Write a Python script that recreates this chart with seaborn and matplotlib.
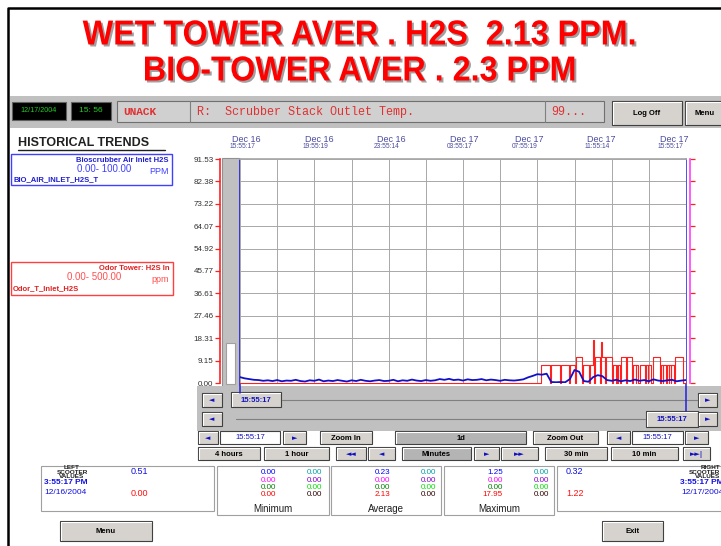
import numpy as np
import pandas as pd
import matplotlib
matplotlib.use("Agg")
import matplotlib.pyplot as plt
import matplotlib.patheffects as pe
from matplotlib.patches import Rectangle
from matplotlib.transforms import Affine2D
from matplotlib.colors import to_rgba
import seaborn as sns

# Bioscrubber Air Inlet H2S (blue pen), one reading every 15 min over the 24 h window
bio_hours = np.arange(0, 24.01, 0.25)
bio_ppm = [2.4, 1.9, 1.6, 1.3,
           1.2, 0.9, 1.1, 0.8, 1.2, 0.7, 1.0, 0.9,
           1.3, 0.8, 0.6, 1.1, 0.9, 1.4, 0.7, 1.0,
           0.8, 1.2, 0.9, 0.6, 1.1, 0.8, 1.3, 0.9,
           0.7, 1.0, 1.2, 0.8, 0.9, 1.3, 0.7, 1.1,
           0.9, 1.4, 1.0, 0.8, 1.2, 0.9, 1.1, 1.6,
           1.3, 1.7, 1.2, 1.4, 1.0, 1.5, 1.2, 1.3,
           1.6, 1.1, 1.4, 1.2, 0.9, 1.3, 1.1, 1.0,
           1.2, 1.5, 2.3, 2.9,
           3.6, 3.4, 3.8, 0.4,
           0.3, 0.4, 0.3, 1.6,
           5.3, 4.6, 0.8, 0.5,
           2.4, 3.2, 2.8, 1.2,
           0.9, 1.3, 0.7, 1.1,
           0.8, 1.4, 0.9, 1.2,
           0.7, 1.5, 1.0, 0.8,
           1.1, 1.3, 0.7, 1.0, 1.2]

# Odor Tower H2S In (red pen), value changes (hours since 12/16 15:55:17)
odor_hours = [0.00, 16.20, 16.66, 16.72, 17.20, 17.26, 17.68, 17.74, 18.02, 18.08,
              18.40, 18.46, 18.78, 18.84, 19.00, 19.05, 19.10, 19.38, 19.42, 19.48,
              19.62, 19.68, 20.02, 20.08, 20.25, 20.28, 20.31, 20.34, 20.44, 20.50,
              20.78, 20.84, 21.10, 21.16, 21.30, 21.33, 21.44, 21.50, 21.80, 21.86,
              21.95, 21.98, 22.14, 22.20, 22.58, 22.64, 22.74, 22.77, 22.92, 22.98,
              23.08, 23.11, 23.18, 23.21, 23.34, 23.40, 23.84, 24.00]
odor_ppm = [0.0, 7.2, 0.0, 7.2, 0.0, 7.2, 0.0, 7.2, 0.0, 10.6,
            0.0, 7.2, 0.0, 7.2, 17.5, 0.0, 10.6, 0.0, 16.8, 10.6,
            0.0, 10.6, 0.0, 7.2, 0.0, 7.2, 0.0, 7.2, 0.0, 10.6,
            0.0, 10.6, 0.0, 7.2, 0.0, 7.2, 0.0, 7.2, 0.0, 7.2,
            0.0, 7.2, 0.0, 10.6, 0.0, 7.2, 0.0, 7.2, 0.0, 7.2,
            0.0, 7.2, 0.0, 7.2, 0.0, 10.6, 0.0, 0.0]

y_ticks = [0.00, 9.15, 18.31, 27.46, 36.61, 45.77, 54.92, 64.07, 73.22, 82.38, 91.53]
top_days = ["Dec 16", "Dec 16", "Dec 16", "Dec 17", "Dec 17", "Dec 17", "Dec 17"]
top_times = ["15:55:17", "19:55:19", "23:55:14", "03:55:17", "07:55:19", "11:55:14", "15:55:17"]

stat_names = ["Minimum", "Average", "Maximum"]
pen_colors_a = ["#0000ff", "#ff00ff", "#008000", "#ff0000"]
pen_colors_b = ["#00a0a0", "#8000d0", "#00e000", "#300000"]
stat_a = [[0.00, 0.00, 0.00, 0.00], [0.23, 0.00, 0.00, 2.13], [1.25, 0.00, 0.00, 17.95]]
stat_b = [[0.00, 0.00, 0.00, 0.00], [0.00, 0.00, 0.00, 0.00], [0.00, 0.00, 0.00, 0.00]]

sns.set_theme(style="white")
plt.rcParams['font.family'] = ['Liberation Sans', 'DejaVu Sans']

W, H = 721, 546
fig = plt.figure(figsize=(W / 100, H / 100), dpi=100)
ui = fig.add_axes([0, 0, 1, 1])
ui.set_xlim(0, W)
ui.set_ylim(H, 0)
ui.axis('off')

FACE = '#d6d3ce'
BAND = '#c0c0c0'


class SqueezeShadow(pe.AbstractPathEffect):
    # narrow the glyphs around cx (display px) and add a drop shadow
    def __init__(self, cx, sx, shadow='#a0a0a0', dx=2, dy=-2):
        super().__init__()
        self.cx, self.sx, self.shadow, self.dx, self.dy = cx, sx, to_rgba(shadow), dx, dy

    def draw_path(self, renderer, gc, tpath, affine, rgbFace=None):
        sq = Affine2D().translate(-self.cx, 0).scale(self.sx, 1).translate(self.cx, 0)
        gc0 = renderer.new_gc()
        gc0.copy_properties(gc)
        renderer.draw_path(gc0, tpath, affine + sq + Affine2D().translate(self.dx, self.dy), self.shadow)
        gc0.restore()
        renderer.draw_path(gc, tpath, affine + sq, rgbFace)


def box(x0, y0, x1, y1, fc, ec='#808080', lw=0.8, z=1):
    ui.add_patch(Rectangle((x0, y0), x1 - x0, y1 - y0, facecolor=fc, edgecolor=ec, lw=lw, zorder=z))


def button(x0, y0, x1, y1, label, fc=FACE, color='black', size=5.5, weight='bold', z=2):
    box(x0, y0, x1, y1, fc, ec='#404040', lw=0.8, z=z)
    ui.plot([x0 + 1, x0 + 1, x1 - 1], [y1 - 1, y0 + 1, y0 + 1], color='white', lw=0.8, zorder=z)
    ui.text((x0 + x1) / 2, (y0 + y1) / 2 + 0.5, label, ha='center', va='center', color=color,
            fontsize=size, fontweight=weight, zorder=z + 1,
            family=['DejaVu Sans'] if label.startswith(('\u25c4', '\u25ba')) else None)


# outer frame
ui.plot([8, 8, W], [H, 8, 8], color='black', lw=1.8, zorder=5)

# title
for y, txt in [(35, "WET TOWER AVER . H2S  2.13 PPM."), (71, "BIO-TOWER AVER . 2.3 PPM")]:
    ui.text(360, y, txt, ha='center', va='center', color='#ff0000', fontsize=25, fontweight='bold',
            path_effects=[SqueezeShadow(360, 0.93)])

# header bar
box(10, 96, W + 2, 128, BAND, ec='none')
box(12, 102, 66, 120, 'black', ec='#606060')
ui.text(39, 111, "12/17/2004", ha='center', va='center', color='#20d020', fontsize=5.2)
box(71, 102, 111, 120, 'black', ec='#606060')
ui.text(91, 111, "15: 56", ha='center', va='center', color='#20d020', fontsize=6)
box(117, 101, 604, 122, '#d0d0d0', ec='#707070')
ui.plot([190, 190], [101, 122], color='#808080', lw=0.8)
ui.plot([545, 545], [101, 122], color='#808080', lw=0.8)
ui.text(123, 112, "UNACK", ha='left', va='center', color='#e03030', fontsize=8, fontweight='bold',
        family=['Liberation Mono'])
ui.text(197, 112, "R:  Scrubber Stack Outlet Temp.", ha='left', va='center', color='#e03030',
        fontsize=8.5, family=['Liberation Mono'])
ui.text(551, 112, "99...", ha='left', va='center', color='#e03030', fontsize=8.5, family=['Liberation Mono'])
button(612, 101, 682, 125, "Log Off", size=5.5)
button(685, 101, 725, 125, "Menu", size=5.5)

# left legend boxes
ui.text(18, 143, "HISTORICAL TRENDS", ha='left', va='center', fontsize=9, fontweight='bold', color='#202020')
ui.plot([18, 165], [149.5, 149.5], color='#202020', lw=1)
box(11, 154, 172, 185, 'white', ec='#4040ff', lw=1)
ui.text(169, 160, "Bioscrubber Air Inlet H2S", ha='right', va='center', color='#2020d0', fontsize=5.5, fontweight='bold')
ui.text(104, 169, "0.00- 100.00", ha='center', va='center', color='#4040ff', fontsize=7)
ui.text(169, 171, "PPM", ha='right', va='center', color='#4040ff', fontsize=6.5)
ui.text(13, 180, "BIO_AIR_INLET_H2S_T", ha='left', va='center', color='#2020d0', fontsize=5.5, fontweight='bold')
box(11, 262, 173, 295, 'white', ec='#ff4040', lw=1)
ui.text(170, 268, "Odor Tower: H2S In", ha='right', va='center', color='#e02020', fontsize=5.5, fontweight='bold')
ui.text(94, 277, "0.00- 500.00", ha='center', va='center', color='#ff5050', fontsize=7)
ui.text(169, 280, "ppm", ha='right', va='center', color='#ff5050', fontsize=6.5)
ui.text(13, 289, "Odor_T_Inlet_H2S", ha='left', va='center', color='#e02020', fontsize=5.5, fontweight='bold')

# vertical scrollbar left of the plot
box(222, 158, 239, 387, BAND, ec='#909090')
box(226, 343, 235, 384, 'white', ec='#a0a0a0')

# time labels above the plot
for x, d, t in zip([246, 319, 391, 464, 529, 601, 674], top_days, top_times):
    ui.text(x, 139, d, ha='center', va='center', color='#4a4aa0', fontsize=6.5)
    ui.text(x - 4, 147, t, ha='center', va='center', color='#4a4aa0', fontsize=4.8)

# trend plot
ax = fig.add_axes([240 / W, 1 - 383 / H, 446 / W, 224 / H])
ax.set_facecolor('white')
odor = pd.DataFrame({'hours': odor_hours, 'ppm': odor_ppm})
bio = pd.DataFrame({'hours': bio_hours, 'ppm': bio_ppm})
sns.lineplot(data=odor, x='hours', y='ppm', estimator=None, sort=False, drawstyle='steps-post',
             color='#ff2020', lw=0.8, ax=ax, clip_on=False)
sns.lineplot(data=bio, x='hours', y='ppm', estimator=None, sort=False,
             color='#1010c8', lw=1.3, ax=ax)
ax.set_xlim(0, 24)
ax.set_ylim(0, 91.53)
ax.set_xticks(np.arange(0, 25, 2))
ax.set_yticks(y_ticks, [f"{v:.2f}" for v in y_ticks])
ax.grid(True, color='#a8a8a8', lw=0.7)
ax.set_xlabel('')
ax.set_ylabel('')
ax.tick_params(axis='x', length=0, labelbottom=False)
ax.tick_params(axis='y', which='both', left=True, right=True, direction='out', length=3.5, width=0.9,
               colors='#ff2020', labelcolor='#303030', labelsize=5.8, pad=1)
for lab in ax.get_yticklabels():
    lab.set_fontweight('bold')
ax.spines['left'].set_position(('outward', 14.5))
ax.spines['left'].set_color('#ff2020')
ax.spines['left'].set_linewidth(1.2)
ax.spines['right'].set_position(('outward', 3))
ax.spines['right'].set_color('#ff40ff')
ax.spines['right'].set_linewidth(1.2)
ax.spines['top'].set_color('#a8a8a8')
ax.spines['bottom'].set_visible(False)
for t in ax.yaxis.get_ticklines()[1::2]:
    t.set_color('#ff40ff')

# scroll band under the plot
box(197, 386, W + 2, 431, BAND, ec='none')
ui.plot([282, 697], [400, 400], color='#808080', lw=0.8)
ui.plot([236, 645], [419, 419], color='#808080', lw=0.8)
button(202, 393, 222, 407, "\u25c4", color='#1010c0', size=5)
button(231, 392, 281, 407, "15:55:17", color='#1010c0', size=5.5)
button(698, 393, 717, 407, "\u25ba", color='#1010c0', size=5)
button(202, 412, 222, 426, "\u25c4", color='#1010c0', size=5)
button(646, 411, 698, 427, "15:55:17", color='#1010c0', size=5.5)
button(698, 412, 717, 426, "\u25ba", color='#1010c0', size=5)
ui.plot([240, 240], [159, 393], color='#2020e0', lw=1.1, zorder=4)
ui.plot([686, 686], [159, 411], color='#2020e0', lw=1.1, zorder=4)

# time navigation buttons
button(198, 431, 218, 444, "\u25c4", color='#1010c0', size=5)
box(220, 431, 280, 444, 'white', ec='#404040', z=2)
ui.text(250, 437.5, "15:55:17", ha='center', va='center', color='#1010c0', fontsize=5.5, zorder=3)
button(283, 431, 306, 444, "\u25ba", color='#1010c0', size=5)
button(320, 431, 372, 444, "Zoom In")
button(395, 431, 526, 444, "1d", fc='#b4b4b4')
button(533, 431, 598, 444, "Zoom Out")
button(607, 431, 630, 444, "\u25c4", color='#1010c0', size=5)
box(632, 431, 683, 444, 'white', ec='#404040', z=2)
ui.text(657, 437.5, "15:55:17", ha='center', va='center', color='#1010c0', fontsize=5.5, zorder=3)
button(685, 431, 708, 444, "\u25ba", color='#1010c0', size=5)

button(198, 447, 260, 460, "4 hours")
button(264, 447, 329, 460, "1 hour")
button(336, 447, 366, 460, "\u25c4\u25c4", color='#1010c0', size=5)
button(368, 447, 395, 460, "\u25c4", color='#1010c0', size=5)
button(402, 447, 471, 460, "Minutes", fc='#b4b4b4')
button(474, 447, 499, 460, "\u25ba", color='#1010c0', size=5)
button(501, 447, 538, 460, "\u25ba\u25ba", color='#1010c0', size=5)
button(545, 447, 607, 460, "30 min")
button(611, 447, 678, 460, "10 min")
button(683, 447, 710, 460, "\u25ba\u25ba|", color='#1010c0', size=5)

# scooter value boxes
box(41, 466, 214, 511, 'white', ec='#a0a0a0')
ui.text(72, 472, "LEFT\nSCOOTER\nVALUES", ha='center', va='center', fontsize=4.6, fontweight='bold',
        color='#202020', linespacing=0.85)
ui.text(44, 483, "3:55:17 PM", ha='left', va='center', color='#1010e0', fontsize=6, fontweight='bold')
ui.text(44, 493, "12/16/2004", ha='left', va='center', color='#1010e0', fontsize=6)
ui.text(131, 471, "0.51", ha='left', va='center', color='#1010e0', fontsize=6.5)
ui.text(131, 493, "0.00", ha='left', va='center', color='#ff1010', fontsize=6.5)

box(557, 466, W + 5, 511, 'white', ec='#a0a0a0')
ui.text(566, 471, "0.32", ha='left', va='center', color='#1010e0', fontsize=6.5)
ui.text(566, 493, "1.22", ha='left', va='center', color='#ff1010', fontsize=6.5)
ui.text(720, 472, "RIGHT\nSCOOTER\nVALUES", ha='right', va='center', fontsize=4.6, fontweight='bold',
        color='#202020', linespacing=0.85, multialignment='right')
ui.text(724, 483, "3:55:17 PM", ha='right', va='center', color='#1010e0', fontsize=6, fontweight='bold')
ui.text(724, 493, "12/17/2004", ha='right', va='center', color='#1010e0', fontsize=6)

# min / average / max panels
for i, (x0, x1) in enumerate([(217, 329), (331, 441), (444, 554)]):
    box(x0, 466, x1, 515, 'white', ec='#a0a0a0')
    for r in range(4):
        y = 472.5 + r * 7.5
        ui.text(x0 + 59, y, f"{stat_a[i][r]:.2f}", ha='right', va='center', color=pen_colors_a[r], fontsize=5.8)
        ui.text(x0 + 105, y, f"{stat_b[i][r]:.2f}", ha='right', va='center', color=pen_colors_b[r], fontsize=5.8)
    ui.text((x0 + x1) / 2, 509, stat_names[i], ha='center', va='center', fontsize=7, color='#202020')

button(60, 521, 152, 541, "Menu", size=5.5)
button(602, 521, 663, 541, "Exit", size=5.5)

fig.savefig('out.png', dpi=100)
